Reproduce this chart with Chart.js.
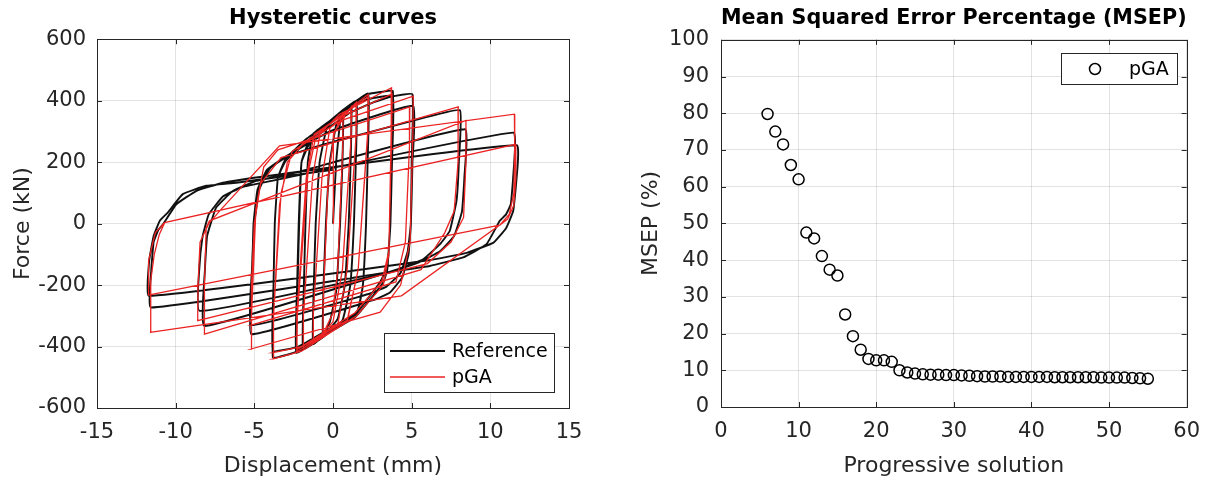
<!DOCTYPE html>
<html>
<head>
<meta charset="utf-8">
<script src="https://cdn.jsdelivr.net/npm/chart.js@4.4.1/dist/chart.umd.min.js"></script>
<style>
  html, body { margin: 0; padding: 0; background: #fff; }
  #wrap { position: relative; width: 1212px; height: 484px; }
  .box { position: absolute; top: 0; width: 606px; height: 484px; }
</style>
</head>
<body>
<div id="wrap">
  <div class="box" style="left:0"><canvas id="hyst" width="606" height="484"></canvas></div>
  <div class="box" style="left:606px"><canvas id="msep" width="606" height="484"></canvas></div>
</div>
<script>
// hysteretic curves, [displacement mm, force kN]
const refPath = [
  [0,0],[0.2,200],[0.45,330],[0.64,361],
  [0.6,200],[0.45,0],[0.2,-220],[-0.2,-320],[-0.64,-365],
  [-0.6,-200],[-0.45,0],[-0.2,200],[0.2,320],[0.7,362],[1.17,383],
  [1.12,200],[1.0,0],[0.75,-200],[0.3,-310],[-0.5,-360],[-1.27,-392],
  [-1.22,-200],[-1.1,0],[-0.85,200],[-0.4,310],[0.4,360],[1.49,399],
  [1.45,200],[1.33,0],[1.1,-200],[0.6,-315],[-0.6,-368],[-1.9,-408],
  [-1.85,-200],[-1.75,0],[-1.6,200],[-1.27,291],[-0.2,334],[1.06,383],[2.23,423],
  [2.2,200],[2.1,0],[1.9,-200],[1.49,-300],[-0.64,-365],[-2.33,-420],
  [-2.28,-200],[-2.18,0],[-2.0,200],[-1.27,285],[-0.2,330],[1.06,378],[2.25,415],
  [2.2,200],[2.1,0],[1.9,-200],[1.49,-295],[-0.64,-360],[-2.3,-412],
  [-2.25,-200],[-2.15,0],[-2.0,200],[-1.5,272],[-0.2,334],[1.06,385],[2.23,421],[3.0,428],[3.8,432],
  [3.75,200],[3.65,0],[3.45,-150],[3.19,-192],[1.49,-300],[-0.64,-365],[-2.2,-414],[-3.0,-428],[-3.82,-436],
  [-3.78,-200],[-3.7,0],[-3.5,150],[-3.0,212],[-1.7,275],[-0.2,330],[1.06,376],[2.23,405],[3.8,415],
  [3.75,200],[3.65,0],[3.45,-140],[3.0,-190],[1.49,-290],[-0.64,-355],[-2.2,-400],[-3.82,-414],
  [-3.78,-200],[-3.7,0],[-3.5,150],[-3.0,205],[-1.7,262],[-0.2,315],[1.06,360],[2.6,395],[3.6,412],[5.05,421],
  [5.0,200],[4.95,0],[4.8,-100],[4.4,-175],[3.6,-225],[2.5,-250],[-5.2,-360],
  [-5.15,-200],[-5.05,0],[-4.8,110],[-4.2,175],[-3.2,212],[-0.2,300],[5.1,383],
  [5.05,200],[4.95,0],[4.75,-90],[4.3,-160],[3.4,-205],[2.2,-230],[-5.2,-330],
  [-5.15,-150],[-5.0,0],[-4.7,110],[-4.0,180],[-2.8,222],[-0.2,263],[5.1,335],[8.07,369],
  [8.0,200],[7.85,74],[7.42,-24],[6.8,-67],[5.73,-116],[4.03,-150],[-8.17,-333],
  [-8.14,-150],[-8.0,-40],[-7.43,52],[-6.37,106],[-4.88,139],[-2.76,161],[8.39,307],
  [8.35,150],[8.2,40],[7.7,-40],[6.8,-90],[5.5,-125],[3.5,-160],[-8.48,-284],
  [-8.43,-100],[-8.28,-40],[-7.9,30],[-7.0,88],[-5.8,118],[-4.0,138],[11.47,296],
  [11.45,150],[11.3,63],[11.0,30],[10.6,9],[9.76,-67],[8.28,-110],[6.15,-138],[4.03,-154],[-11.57,-273],
  [-11.55,-150],[-11.4,-60],[-11.1,-20],[-10.8,-2],[-9.96,63],[-8.7,106],[-7.0,133],[-4.88,150],[11.68,255],
  [11.62,120],[11.45,40],[11.0,-15],[10.2,-62],[8.5,-95],[6.0,-120],[-11.7,-235],
  [-11.68,-120],[-11.4,-40],[-11.0,10],[-10.5,36],[-9.55,96],[-8.06,123],[-6.15,133],[0,175]
];

const pgaPath = [
  [0,0],[0,150],[0.05,290],[0.64,355],
  [0.62,250],[0.3,-150],[0,-290],[-0.64,-360],
  [-0.62,-250],[-0.3,150],[0.1,300],[1.17,380],
  [1.15,280],[0.6,-150],[0,-320],[-1.27,-388],
  [-1.25,-290],[-0.7,150],[-0.2,310],[1.49,395],
  [1.47,290],[0.9,-150],[0.3,-330],[-1.9,-405],
  [-1.88,-300],[-1.3,150],[-0.8,300],[2.23,420],
  [2.21,300],[1.6,-150],[0.9,-320],[-2.33,-418],
  [-2.3,-300],[-1.7,150],[-1.2,290],[2.25,412],
  [2.22,300],[1.6,-150],[0.9,-315],[-2.3,-410],
  [-2.27,-300],[-1.6,160],[-1.1,280],[0.42,356],[3.72,442],
  [3.7,300],[3.55,-100],[3.2,-200],[1.5,-300],[-2.0,-415],[-3.8,-440],
  [-3.78,-300],[-3.4,60],[-2.9,200],[-1.8,265],[0.4,345],[3.75,422],
  [3.73,300],[3.55,-90],[3.1,-190],[1.4,-290],[-2.0,-400],[-3.8,-420],
  [-3.78,-300],[-3.3,100],[-2.6,235],[0.5,335],[5.1,415],
  [5.08,300],[4.9,-60],[4.3,-200],[3.0,-288],[-5.2,-408],
  [-5.18,-300],[-4.9,50],[-4.4,185],[-3.5,240],[4.88,380],
  [4.86,250],[4.6,-60],[4.0,-190],[-5.2,-330],
  [-5.18,-200],[-5.0,0],[-4.6,130],[-3.3,215],[7.96,380],
  [7.95,200],[7.7,40],[7.1,-30],[5.6,-150],[-8.17,-360],
  [-8.17,-200],[-8.06,-13],[-7.85,9],[8.45,336],
  [8.45,200],[8.3,20],[7.5,-60],[6.0,-130],[-8.6,-316],
  [-8.58,-200],[-8.45,-60],[-7.9,0],[-7.1,47],[-3.4,253],[11.53,356],
  [11.55,250],[11.5,100],[11.2,30],[10.6,-5],[4.35,-235],[-11.63,-354],
  [-11.6,-250],[-11.57,-186],[-11.36,-100],[-11.04,-35],[-10.7,3],[11.6,258],
  [11.62,150],[11.5,60],[11.1,15],[10.6,-5],[-11.74,-233],
  [-11.72,-120],[-11.3,-30],[-10.7,3],[0,125]
];

// MSEP per progressive solution
const solution = [6,7,8,9,10,11,12,13,14,15,16,17,18,19,20,21,22,23,24,25,26,27,28,29,30,
  31,32,33,34,35,36,37,38,39,40,41,42,43,44,45,46,47,48,49,50,51,52,53,54,55];
const msep = [79.8,75.0,71.5,65.9,62.0,47.5,45.9,41.1,37.4,35.8,25.2,19.3,15.6,13.1,12.7,12.7,12.3,10.0,9.4,9.1,
  8.9,8.8,8.8,8.7,8.7,8.6,8.5,8.4,8.3,8.3,8.3,8.2,8.2,8.2,8.2,8.2,8.2,8.1,8.1,8.1,
  8.1,8.1,8.1,8.0,8.0,8.0,8.0,7.9,7.8,7.7];

const FONT = "'DejaVu Sans', sans-serif";
const INK = '#262626';

// box round the axes plus small inner ticks, like matlab
const boxPlugin = {
  id: 'boxPlugin',
  afterDraw(chart) {
    const ctx = chart.ctx, a = chart.chartArea;
    const xs = chart.scales.x, ys = chart.scales.y;
    ctx.save();
    ctx.strokeStyle = INK;
    ctx.lineWidth = 1;
    ctx.beginPath();
    xs.ticks.forEach(t => {
      const px = Math.round(xs.getPixelForValue(t.value)) + 0.5;
      ctx.moveTo(px, a.bottom); ctx.lineTo(px, a.bottom - 5);
      ctx.moveTo(px, a.top); ctx.lineTo(px, a.top + 5);
    });
    ys.ticks.forEach(t => {
      const py = Math.round(ys.getPixelForValue(t.value)) + 0.5;
      ctx.moveTo(a.left, py); ctx.lineTo(a.left + 5, py);
      ctx.moveTo(a.right, py); ctx.lineTo(a.right - 5, py);
    });
    ctx.stroke();
    ctx.strokeRect(Math.round(a.left) + 0.5, Math.round(a.top) + 0.5,
      Math.round(a.right - a.left), Math.round(a.bottom - a.top));
    ctx.restore();
  }
};

// legend drawn inside the axes
const boxLegend = {
  id: 'boxLegend',
  afterDraw(chart, args, o) {
    const ctx = chart.ctx;
    ctx.save();
    ctx.fillStyle = '#fff';
    ctx.fillRect(o.x, o.y, o.w, o.h);
    ctx.strokeStyle = INK;
    ctx.lineWidth = 1;
    ctx.strokeRect(o.x + 0.5, o.y + 0.5, o.w, o.h);
    ctx.font = '19px ' + FONT;
    ctx.textBaseline = 'middle';
    chart.data.datasets.forEach((ds, i) => {
      const cy = o.y + o.first + i * o.row;
      if (o.kind === 'line') {
        ctx.strokeStyle = ds.borderColor;
        ctx.lineWidth = ds.borderWidth;
        ctx.beginPath();
        ctx.moveTo(o.x + 6, cy); ctx.lineTo(o.x + 61, cy);
        ctx.stroke();
      } else {
        ctx.strokeStyle = ds.pointBorderColor;
        ctx.lineWidth = ds.pointBorderWidth;
        ctx.beginPath();
        ctx.arc(o.x + 34, cy, ds.pointRadius, 0, 2 * Math.PI);
        ctx.stroke();
      }
      ctx.fillStyle = '#000';
      ctx.fillText(ds.label, o.x + o.tx, cy + 1);
    });
    ctx.restore();
  }
};

function axisTitle(text, pad) {
  return { display: true, text: text, color: INK, font: { family: FONT, size: 22 }, padding: pad };
}

function tickStyle(pad) {
  return { color: INK, font: { family: FONT, size: 21 }, padding: pad, maxRotation: 0, autoSkip: false };
}

const gridStyle = { color: 'rgba(0,0,0,0.11)', drawTicks: false };

new Chart(document.getElementById('hyst'), {
  type: 'scatter',
  data: {
    datasets: [
      { label: 'Reference', data: refPath.map(p => ({ x: p[0], y: p[1] })),
        showLine: true, borderColor: '#111', borderWidth: 1.9, pointRadius: 0, tension: 0.1, order: 1 },
      { label: 'pGA', data: pgaPath.map(p => ({ x: p[0], y: p[1] })),
        showLine: true, borderColor: 'rgb(235,35,35)', borderWidth: 1.3, pointRadius: 0, tension: 0, order: 0 }
    ]
  },
  options: {
    responsive: false,
    animation: false,
    layout: { padding: { left: 0, right: 37, top: 0, bottom: 0 } },
    plugins: {
      legend: { display: false },
      tooltip: { enabled: false },
      title: { display: true, text: 'Hysteretic curves', fullSize: false, color: '#000',
        font: { family: FONT, size: 21, weight: 'bold' }, padding: { top: 6, bottom: 8 } },
      boxLegend: { x: 384, y: 333, w: 170, h: 59, first: 18, row: 26, tx: 68, kind: 'line' }
    },
    scales: {
      x: {
        type: 'linear', min: -15, max: 15,
        ticks: Object.assign(tickStyle(12), { stepSize: 5 }),
        grid: gridStyle, border: { display: false },
        title: axisTitle('Displacement (mm)', { top: 0, bottom: 5 }),
        afterFit: s => { s.height = 76; }
      },
      y: {
        type: 'linear', min: -600, max: 600,
        ticks: Object.assign(tickStyle(11), { stepSize: 200 }),
        grid: gridStyle, border: { display: false },
        title: axisTitle('Force (kN)', { top: 10, bottom: 0 }),
        afterFit: s => { s.width = 97; }
      }
    }
  },
  plugins: [boxPlugin, boxLegend]
});

new Chart(document.getElementById('msep'), {
  type: 'scatter',
  data: {
    datasets: [
      { label: 'pGA', data: solution.map((s, i) => ({ x: s, y: msep[i] })),
        pointRadius: 5.5, pointBorderWidth: 1.5, pointBorderColor: '#000',
        pointBackgroundColor: 'rgba(0,0,0,0)', showLine: false }
    ]
  },
  options: {
    responsive: false,
    animation: false,
    layout: { padding: { left: 0, right: 20, top: 0, bottom: 0 } },
    plugins: {
      legend: { display: false },
      tooltip: { enabled: false },
      title: { display: true, text: 'Mean Squared Error Percentage (MSEP)', fullSize: false, color: '#000',
        font: { family: FONT, size: 21.5, weight: 'bold' }, padding: { top: 6, bottom: 8 } },
      boxLegend: { x: 455, y: 53, w: 116, h: 31, first: 16, row: 26, tx: 68, kind: 'marker' }
    },
    scales: {
      x: {
        type: 'linear', min: 0, max: 60,
        ticks: Object.assign(tickStyle(12), { stepSize: 10 }),
        grid: gridStyle, border: { display: false },
        title: axisTitle('Progressive solution', { top: 0, bottom: 5 }),
        afterFit: s => { s.height = 77; }
      },
      y: {
        type: 'linear', min: 0, max: 100,
        ticks: Object.assign(tickStyle(12), { stepSize: 10 }),
        grid: gridStyle, border: { display: false },
        title: axisTitle('MSEP (%)', { top: 32, bottom: 0 }),
        afterFit: s => { s.width = 115; }
      }
    }
  },
  plugins: [boxPlugin, boxLegend]
});
</script>
</body>
</html>
